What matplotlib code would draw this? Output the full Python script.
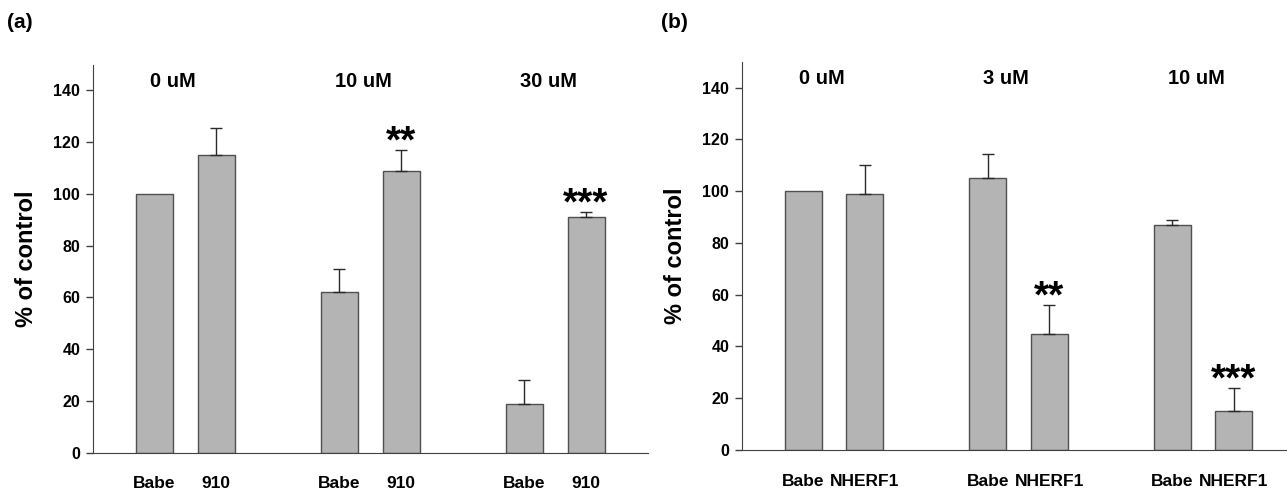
import matplotlib
matplotlib.use("Agg")
import matplotlib.pyplot as plt

plt.rcParams['font.family'] = ['Liberation Sans', 'DejaVu Sans']
plt.rcParams['font.weight'] = 'bold'

# panel (a)
cats_a = ["Babe", "910", "Babe", "910", "Babe", "910"]
vals_a = [100, 115, 62, 109, 19, 91]
errs_a = [0, 10.5, 9, 8, 9, 2]
doses_a = ["0 uM", "10 uM", "30 uM"]
stars_a = ["", "", "", "**", "", "***"]

# panel (b)
cats_b = ["Babe", "NHERF1", "Babe", "NHERF1", "Babe", "NHERF1"]
vals_b = [100, 99, 105, 45, 87, 15]
errs_b = [0, 11, 9.5, 11, 2, 9]
doses_b = ["0 uM", "3 uM", "10 uM"]
stars_b = ["", "", "", "**", "", "***"]

xpos = [0, 1, 3, 4, 6, 7]
grp = [0, 3, 6]

W, H = 1287, 492
fig = plt.figure(figsize=(W / 100, H / 100), dpi=100)

ax_a = fig.add_axes([92.7 / W, 1 - 452.7 / H, 555 / W, 388.2 / H])
ax_b = fig.add_axes([741.7 / W, 1 - 450 / H, 553.5 / W, 388.3 / H])


def draw(ax, cats, vals, errs, doses, stars):
    ax.bar(xpos, vals, width=0.6, color="#b4b4b4", edgecolor="#505050",
           linewidth=1.0, zorder=2)
    for x, v, e, s in zip(xpos, vals, errs, stars):
        if e > 0:
            ax.errorbar(x, v, yerr=[[0], [e]], fmt="none", ecolor="#2a2a2a",
                        elinewidth=1.0, capsize=4.3, capthick=1.0, zorder=3)
        if s:
            ax.annotate(s, (x, v + e), xytext=(0, 5.5), textcoords="offset points",
                        ha="center", va="center", fontsize=28, fontweight="bold")
    for g, d in zip(grp, doses):
        ax.text(g - 0.07, 143.5, d, ha="left", va="center",
                fontsize=14.5, fontweight="bold")
    ax.set_xlim(-1, 8)
    ax.set_ylim(0, 150)
    ax.set_yticks(range(0, 141, 20))
    ax.set_xticks(xpos)
    ax.set_xticklabels(cats, fontsize=12.5, fontweight="bold")
    ax.tick_params(axis="x", length=0, pad=17)
    ax.tick_params(axis="y", length=5, width=1, color="#404040",
                   labelsize=11.5, pad=4)
    for t in ax.get_yticklabels():
        t.set_fontweight("bold")
    ax.spines["top"].set_visible(False)
    ax.spines["right"].set_visible(False)
    ax.spines["left"].set_color("#404040")
    ax.spines["bottom"].set_color("#404040")
    ax.set_ylabel("% of control", fontsize=17, fontweight="bold")
    ax.yaxis.set_label_coords(-0.098, 0.5)


draw(ax_a, cats_a, vals_a, errs_a, doses_a, stars_a)
draw(ax_b, cats_b, vals_b, errs_b, doses_b, stars_b)

fig.text(20 / W, 1 - 23 / H, "(a)", ha="center", va="center",
         fontsize=15, fontweight="bold")
fig.text(674 / W, 1 - 23 / H, "(b)", ha="center", va="center",
         fontsize=15, fontweight="bold")

fig.savefig("out.png", dpi=100)
